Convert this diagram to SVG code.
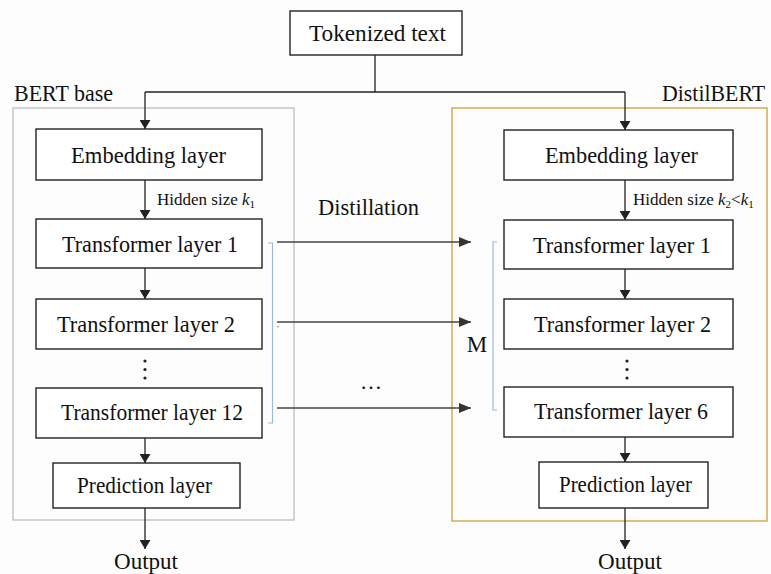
<svg xmlns="http://www.w3.org/2000/svg" width="771" height="574" viewBox="0 0 771 574">
  <defs>
    <marker id="arrow" viewBox="0 0 9 11" refX="9" refY="5.5" markerWidth="9" markerHeight="11" markerUnits="userSpaceOnUse" orient="auto">
      <path d="M0,0 L9,5.5 L0,11 z" fill="#222"/>
    </marker>
    <marker id="arrowWide" viewBox="0 0 12 10" refX="12" refY="5" markerWidth="12" markerHeight="10" markerUnits="userSpaceOnUse" orient="auto">
      <path d="M0,0 L12,5 L0,10 z" fill="#333"/>
    </marker>
  </defs>
  <style>
    text { font-family: "Liberation Serif", "Times New Roman", serif; fill: #111; }
    .box { fill: #fff; stroke: #222; stroke-width: 1.4; }
    .lbl { font-size: 24px; text-anchor: middle; }
    .small { font-size: 17px; }
    .edge { fill: none; stroke: #222; stroke-width: 1.3; }
    .flow { fill: none; stroke: #444; stroke-width: 1.5; }
    .brace { fill: none; stroke: #9db9e0; stroke-width: 1.2; }
  </style>
  <rect width="771" height="574" fill="#fdfdfd"/>

  <!-- model containers -->
  <g id="bert-base">
    <rect x="13" y="108" width="281" height="412" fill="none" stroke="#bdbdbd" stroke-width="1.3"/>
    <text x="14" y="101" font-size="24" textLength="99" lengthAdjust="spacingAndGlyphs">BERT base</text>
  </g>
  <g id="distilbert">
    <rect x="452" y="108" width="315" height="413" fill="none" stroke="#d6a951" stroke-width="1.5"/>
    <text x="662" y="101" font-size="22.5" textLength="103" lengthAdjust="spacingAndGlyphs">DistilBERT</text>
  </g>

  <!-- input -->
  <g id="tokenized">
    <rect class="box" x="290" y="11" width="172" height="44"/>
    <text class="lbl" x="377.5" y="41" font-size="25" textLength="137" lengthAdjust="spacingAndGlyphs">Tokenized text</text>
  </g>

  <!-- teacher stack -->
  <g id="b-embed">
    <rect class="box" x="36" y="129" width="226" height="51"/>
    <text class="lbl" x="148.5" y="163" textLength="155" lengthAdjust="spacingAndGlyphs">Embedding layer</text>
  </g>
  <g id="b-t1">
    <rect class="box" x="36" y="219" width="226" height="49"/>
    <text class="lbl" x="150" y="252" textLength="176" lengthAdjust="spacingAndGlyphs">Transformer layer 1</text>
  </g>
  <g id="b-t2">
    <rect class="box" x="36" y="299" width="226" height="50"/>
    <text class="lbl" x="146" y="332" textLength="178" lengthAdjust="spacingAndGlyphs">Transformer layer 2</text>
  </g>
  <g id="b-dots">
    <circle cx="145" cy="361" r="1.6" fill="#222"/>
    <circle cx="145" cy="369.5" r="1.6" fill="#222"/>
    <circle cx="145" cy="378" r="1.6" fill="#222"/>
  </g>
  <g id="b-t12">
    <rect class="box" x="36" y="388" width="226" height="50"/>
    <text class="lbl" x="152" y="420" textLength="182" lengthAdjust="spacingAndGlyphs">Transformer layer 12</text>
  </g>
  <g id="b-pred">
    <rect class="box" x="53" y="463" width="187" height="45"/>
    <text class="lbl" x="144.5" y="493" font-size="22" textLength="135" lengthAdjust="spacingAndGlyphs">Prediction layer</text>
  </g>
  <g id="b-output">
    <text class="lbl" x="146" y="569" textLength="64" lengthAdjust="spacingAndGlyphs">Output</text>
  </g>

  <!-- student stack -->
  <g id="d-embed">
    <rect class="box" x="504" y="130" width="229" height="50"/>
    <text class="lbl" x="621.5" y="163" textLength="153" lengthAdjust="spacingAndGlyphs">Embedding layer</text>
  </g>
  <g id="d-t1">
    <rect class="box" x="504" y="220" width="229" height="49"/>
    <text class="lbl" x="622" y="253" textLength="178" lengthAdjust="spacingAndGlyphs">Transformer layer 1</text>
  </g>
  <g id="d-t2">
    <rect class="box" x="504" y="299" width="229" height="50"/>
    <text class="lbl" x="622.5" y="332" textLength="177" lengthAdjust="spacingAndGlyphs">Transformer layer 2</text>
  </g>
  <g id="d-dots">
    <circle cx="627" cy="361" r="1.6" fill="#222"/>
    <circle cx="627" cy="369.5" r="1.6" fill="#222"/>
    <circle cx="627" cy="378" r="1.6" fill="#222"/>
  </g>
  <g id="d-t6">
    <rect class="box" x="504" y="387" width="229" height="50"/>
    <text class="lbl" x="621" y="419" textLength="174" lengthAdjust="spacingAndGlyphs">Transformer layer 6</text>
  </g>
  <g id="d-pred">
    <rect class="box" x="539" y="462" width="169" height="46"/>
    <text class="lbl" x="625.5" y="492" font-size="22" textLength="133" lengthAdjust="spacingAndGlyphs">Prediction layer</text>
  </g>
  <g id="d-output">
    <text class="lbl" x="630" y="569" textLength="64" lengthAdjust="spacingAndGlyphs">Output</text>
  </g>

  <!-- layer groupings -->
  <g id="braces">
    <path class="brace" d="M268,243 H272.5 V423 H268"/>
    <rect x="277" y="326" width="2" height="1.5" fill="#9db9e0"/>
    <path class="brace" d="M497,242 H493 V410 H497"/>
    <text x="477" y="352" font-size="23" text-anchor="middle">M</text>
  </g>

  <!-- labels on links -->
  <g id="link-labels">
    <text class="small" x="157" y="205">Hidden size <tspan font-style="italic">k</tspan><tspan font-size="11" dy="3">1</tspan></text>
    <text class="small" x="633" y="205" font-size="16.5">Hidden size <tspan font-style="italic">k</tspan><tspan font-size="11" dy="3">2</tspan><tspan dy="-3">&lt;</tspan><tspan font-style="italic">k</tspan><tspan font-size="11" dy="3">1</tspan></text>
    <text x="368.5" y="215" font-size="24" text-anchor="middle" textLength="101" lengthAdjust="spacingAndGlyphs">Distillation</text>
    <text x="371" y="389" font-size="22" text-anchor="middle">…</text>
  </g>

  <!-- connectors -->
  <g id="connectors">
    <path class="edge" d="M375,55 V92 M145,92 H625"/>
    <path class="edge" d="M145,92 V129" marker-end="url(#arrow)"/>
    <path class="edge" d="M625,92 V130" marker-end="url(#arrow)"/>
    <path class="edge" d="M145,180 V219" marker-end="url(#arrow)"/>
    <path class="edge" d="M145,268 V299" marker-end="url(#arrow)"/>
    <path class="edge" d="M145,438 V463" marker-end="url(#arrow)"/>
    <path class="edge" d="M145,508 V549" marker-end="url(#arrow)"/>
    <path class="edge" d="M625,180 V220" marker-end="url(#arrow)"/>
    <path class="edge" d="M625,269 V299" marker-end="url(#arrow)"/>
    <path class="edge" d="M625,437 V462" marker-end="url(#arrow)"/>
    <path class="edge" d="M625,508 V549" marker-end="url(#arrow)"/>
    <path class="flow" d="M277,242 H471" marker-end="url(#arrowWide)"/>
    <path class="flow" d="M277,322 H471" marker-end="url(#arrowWide)"/>
    <path class="flow" d="M277,408 H471" marker-end="url(#arrowWide)"/>
  </g>
</svg>
